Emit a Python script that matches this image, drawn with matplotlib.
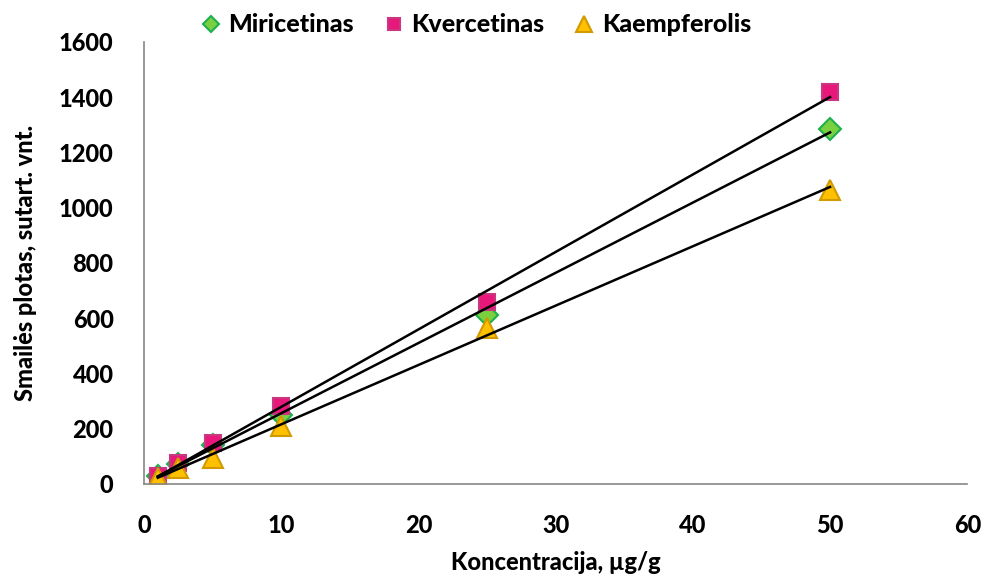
import numpy as np
import matplotlib.pyplot as plt

plt.rcParams['font.family'] = ['Lato', 'DejaVu Sans']

conc = [1, 2.5, 5, 10, 25, 50]
miricetinas = [28, 72, 140, 250, 612, 1285]
kvercetinas = [30, 75, 148, 282, 659, 1419]
kaempferolis = [22, 58, 95, 210, 565, 1064]

series = [
    ("Miricetinas", miricetinas, 'D', 11, '#7AD03F', '#1EB050'),
    ("Kvercetinas", kvercetinas, 's', 12, '#E8177A', '#C8377F'),
    ("Kaempferolis", kaempferolis, '^', 15, '#FFC000', '#D09A00'),
]

fig = plt.figure(figsize=(9.87, 5.83), dpi=100)
ax = fig.add_axes([0.146, 0.170, 0.834, 0.758])

x = np.array(conc)
for name, vals, mk, ms, fc, ec in series:
    ax.plot(conc, vals, linestyle='none', marker=mk, markersize=ms,
            markerfacecolor=fc, markeredgecolor=ec, markeredgewidth=1.5,
            label=name, zorder=2)

# linear trendlines
for name, vals, mk, ms, fc, ec in series:
    k, b = np.polyfit(x, vals, 1)
    ax.plot([x.min(), x.max()], [k * x.min() + b, k * x.max() + b],
            color='black', linewidth=1.8, zorder=3)

ax.set_xlim(0, 60)
ax.set_ylim(0, 1600)
ax.set_xticks(range(0, 61, 10))
ax.set_yticks(range(0, 1601, 200))
for s in ['top', 'right']:
    ax.spines[s].set_visible(False)
for s in ['left', 'bottom']:
    ax.spines[s].set_color('#868686')
    ax.spines[s].set_linewidth(1.2)
ax.tick_params(length=0, labelsize=17)
ax.tick_params(axis='x', pad=22)
ax.tick_params(axis='y', pad=22)
for lab in ax.get_xticklabels() + ax.get_yticklabels():
    lab.set_fontweight('black')

ax.set_xlabel("Koncentracija, µg/g", fontsize=17, fontweight='black', labelpad=10)
ax.set_ylabel("Smailės plotas, sutart. vnt.", fontsize=17, fontweight='black', labelpad=16)

leg = ax.legend(loc='lower center', bbox_to_anchor=(0.4, 0.99), ncol=3,
                frameon=False, prop={'size': 18, 'weight': 'black'},
                handletextpad=0.1, columnspacing=1.0, markerscale=0.75,
                handlelength=1.2, borderaxespad=0)

fig.savefig('out.png', dpi=100)
